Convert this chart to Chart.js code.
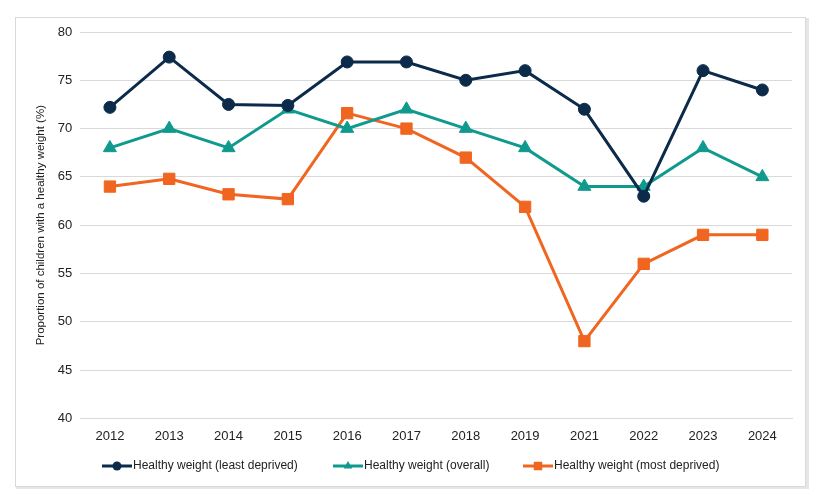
<!DOCTYPE html>
<html>
<head>
<meta charset="utf-8">
<script src="https://cdn.jsdelivr.net/npm/chart.js@4"></script>
<style>
  html, body { margin: 0; padding: 0; background: #fff; }
  #wrap { width: 823px; height: 495px; position: relative; }
</style>
</head>
<body>
<div id="wrap"><canvas id="chart"></canvas></div>
<script>
/* 健康体重の割合（剥奪度別）折れ線グラフ */

const years = ["2012", "2013", "2014", "2015", "2016", "2017", "2018", "2019", "2021", "2022", "2023", "2024"];
const leastDeprived = [72.2, 77.4, 72.5, 72.4, 76.9, 76.9, 75, 76, 72, 63, 76, 74];
const overall = [68, 70, 68, 72, 70, 72, 70, 68, 64, 64, 68, 65];
const mostDeprived = [64, 64.8, 63.2, 62.7, 71.6, 70, 67, 61.9, 48, 56, 59, 59];

const seriesNames = [
  "Healthy weight (least deprived)",
  "Healthy weight (overall)",
  "Healthy weight (most deprived)",
];
const seriesColors = ["#0c2a49", "#109a8e", "#f0651f"];
const seriesMarkers = ["circle", "triangle", "rect"];
const markerRadius = { circle: 6, triangle: 7.5, rect: 8 };
const legendMarkerRadius = { circle: 4.5, triangle: 5, rect: 6 };

const FONT = "'Liberation Sans', Arial, sans-serif";

// 外枠（Excel風のチャート枠）
const framePlugin = {
  id: "frame",
  beforeDraw(chart) {
    const ctx = chart.ctx;
    ctx.save();
    ctx.fillStyle = "#e6e6e6";
    ctx.fillRect(16, 486, 791, 3);
    ctx.fillRect(806, 18, 3, 471);
    ctx.fillStyle = "#ffffff";
    ctx.fillRect(15, 17, 791, 470);
    ctx.strokeStyle = "#d9d9d9";
    ctx.lineWidth = 1;
    ctx.strokeRect(15.5, 17.5, 790, 469);
    ctx.restore();
  },
};

// 凡例（線＋マーカー）
const legendPlugin = {
  id: "lineLegend",
  afterDraw(chart) {
    const ctx = chart.ctx;
    const y = 466;
    const starts = [102, 333, 523];
    ctx.save();
    ctx.font = "12px " + FONT;
    ctx.textBaseline = "middle";
    chart.data.datasets.forEach((ds, i) => {
      const x = starts[i];
      ctx.strokeStyle = ds.borderColor;
      ctx.lineWidth = 3;
      ctx.beginPath();
      ctx.moveTo(x, y);
      ctx.lineTo(x + 30, y);
      ctx.stroke();
      ctx.fillStyle = ds.borderColor;
      Chart.helpers.drawPoint(ctx, {
        pointStyle: ds.pointStyle,
        radius: legendMarkerRadius[ds.pointStyle],
        rotation: 0,
      }, x + 15, y);
      ctx.fillStyle = "#222";
      ctx.fillText(ds.label, x + 31, y);
    });
    ctx.restore();
  },
};

const datasets = [leastDeprived, overall, mostDeprived].map((data, i) => ({
  label: seriesNames[i],
  data,
  borderColor: seriesColors[i],
  backgroundColor: seriesColors[i],
  borderWidth: 3,
  pointStyle: seriesMarkers[i],
  pointRadius: markerRadius[seriesMarkers[i]],
  pointBorderWidth: 1,
  pointBorderColor: seriesColors[i],
  tension: 0,
}));

new Chart(document.getElementById("chart"), {
  type: "line",
  data: { labels: years, datasets },
  plugins: [framePlugin, legendPlugin],
  options: {
    responsive: true,
    maintainAspectRatio: false,
    animation: false,
    layout: { padding: { left: 34, top: 32, right: 31, bottom: 41 } },
    plugins: {
      legend: { display: false },
      tooltip: { enabled: false },
    },
    scales: {
      y: {
        min: 40,
        max: 80,
        ticks: {
          stepSize: 5,
          color: "#222",
          font: { family: FONT, size: 13 },
          padding: 8,
        },
        grid: { color: "#d9d9d9", lineWidth: 1, drawTicks: false },
        border: { display: false },
        title: {
          display: true,
          text: "Proportion of children with a healthy weight (%)",
          color: "#222",
          font: { family: FONT, size: 11.5 },
          padding: { top: 0, bottom: 2 },
        },
      },
      x: {
        offset: true,
        ticks: {
          color: "#222",
          font: { family: FONT, size: 13 },
          padding: 10,
          maxRotation: 0,
        },
        grid: { display: false, drawTicks: false },
        border: { display: true, color: "#d9d9d9" },
      },
    },
  },
});
</script>
</body>
</html>
